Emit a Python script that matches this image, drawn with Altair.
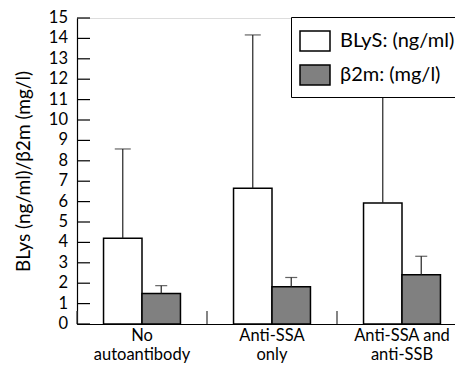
import altair as alt
import pandas as pd

categories = ["No autoantibody", "Anti-SSA only", "Anti-SSA and anti-SSB"]
label_line1 = ["No", "Anti-SSA", "Anti-SSA and"]
label_line2 = ["autoantibody", "only", "anti-SSB"]
series = ["BLyS: (ng/ml)", "β2m: (mg/l)"]
blys_mean = [4.2, 6.65, 5.93]
blys_upper = [8.58, 14.17, 11.35]
b2m_mean = [1.49, 1.83, 2.42]
b2m_upper = [1.88, 2.28, 3.32]
y_ticks = list(range(0, 16))

rows = []
for i, c in enumerate(categories):
    rows.append({"category": c, "series": series[0], "mean": blys_mean[i], "upper": blys_upper[i]})
    rows.append({"category": c, "series": series[1], "mean": b2m_mean[i], "upper": b2m_upper[i]})
df = pd.DataFrame(rows)
cat_df = pd.DataFrame({"category": categories})
tick_df = pd.DataFrame({"v": y_ticks, "lab": [str(t) for t in y_ticks]})

FONT = "Lato"
W, H = 378, 306

label_expr = " : ".join(
    [f"datum.value == '{c}' ? ['{a}', '{b}']" for c, a, b in zip(categories, label_line1, label_line2)]
) + " : datum.value"

x_axis = alt.Axis(
    title=None, ticks=False, labelAngle=0, labelExpr=label_expr,
    labelFontSize=16.5, labelPadding=3, domainColor="black", domainWidth=1.2,
    labelColor="black", labelFont=FONT, labelLineHeight=19,
)
y_axis = alt.Axis(
    title="BLys (ng/ml)/β2m (mg/l)", ticks=False, grid=False, labels=False,
    domainColor="black", domainWidth=1.2,
    titleFont=FONT, titleFontSize=19,
    titleFontWeight="normal", titleColor="black", titlePadding=44,
)
x_scale = alt.Scale(paddingInner=0, paddingOuter=0, range=[0, 390])
xoff = alt.XOffset("series:N", sort=series, scale=alt.Scale(paddingInner=0, paddingOuter=0.69))
y_scale = alt.Scale(domain=[0, 15], nice=False)

def X(**kw):
    return alt.X("category:N", sort=categories, scale=x_scale, axis=x_axis, **kw)

bars = alt.Chart(df).mark_bar(stroke="black", strokeWidth=1.5).encode(
    x=X(),
    xOffset=xoff,
    y=alt.Y("mean:Q", scale=y_scale, axis=y_axis),
    color=alt.Color(
        "series:N", sort=series,
        scale=alt.Scale(domain=series, range=["white", "#808080"]),
        legend=alt.Legend(
            title=None, orient="none", legendX=214, legendY=-1,
            strokeColor="black", fillColor="white", padding=8,
            symbolType="M-1,-0.667L1,-0.667L1,0.667L-1,0.667Z", symbolSize=900,
            symbolStrokeColor="black", symbolStrokeWidth=1.5, symbolOpacity=1,
            labelFontSize=20, labelFont=FONT, labelColor="black", labelOffset=9,
            rowPadding=4,
        ),
    ),
)

err = alt.Chart(df).mark_rule(color="#222222", strokeWidth=1.2).encode(
    x=X(),
    xOffset=xoff,
    y=alt.Y("mean:Q", scale=y_scale, axis=y_axis),
    y2="upper:Q",
)

caps_blys = alt.Chart(df).transform_filter(
    alt.datum.series == series[0]
).mark_tick(color="#222222", thickness=1.2, size=16).encode(
    x=X(),
    xOffset=xoff,
    y=alt.Y("upper:Q", scale=y_scale, axis=y_axis),
)

caps_b2m = alt.Chart(df).transform_filter(
    alt.datum.series == series[1]
).mark_tick(color="#222222", thickness=1.2, size=12).encode(
    x=X(),
    xOffset=xoff,
    y=alt.Y("upper:Q", scale=y_scale, axis=y_axis),
)

seps = alt.Chart(cat_df).mark_rule(color="#333333", strokeWidth=1.2).encode(
    x=X(bandPosition=0),
    y=alt.value(H - 13),
    y2=alt.value(H),
)

yticks = alt.Chart(tick_df).mark_rule(color="black", strokeWidth=1.2).encode(
    y=alt.Y("v:Q", scale=y_scale, axis=y_axis),
    x=alt.value(0),
    x2=alt.value(13),
)

ylabels = alt.Chart(tick_df).mark_text(
    align="right", baseline="middle", font=FONT, fontSize=16.5, color="black", dx=-9
).encode(
    y=alt.Y("v:Q", scale=y_scale, axis=y_axis),
    x=alt.value(0),
    text="lab:N",
)

chart = alt.layer(bars, err, caps_blys, caps_b2m, seps, yticks, ylabels).properties(
    width=W, height=H,
    autosize=alt.AutoSizeParams(type="none"),
    padding={"left": 69, "top": 10, "right": 0, "bottom": 40},
).configure_view(stroke=None).configure(background="white")

chart.save("out.html", embed_options={"renderer": "svg", "actions": False})
